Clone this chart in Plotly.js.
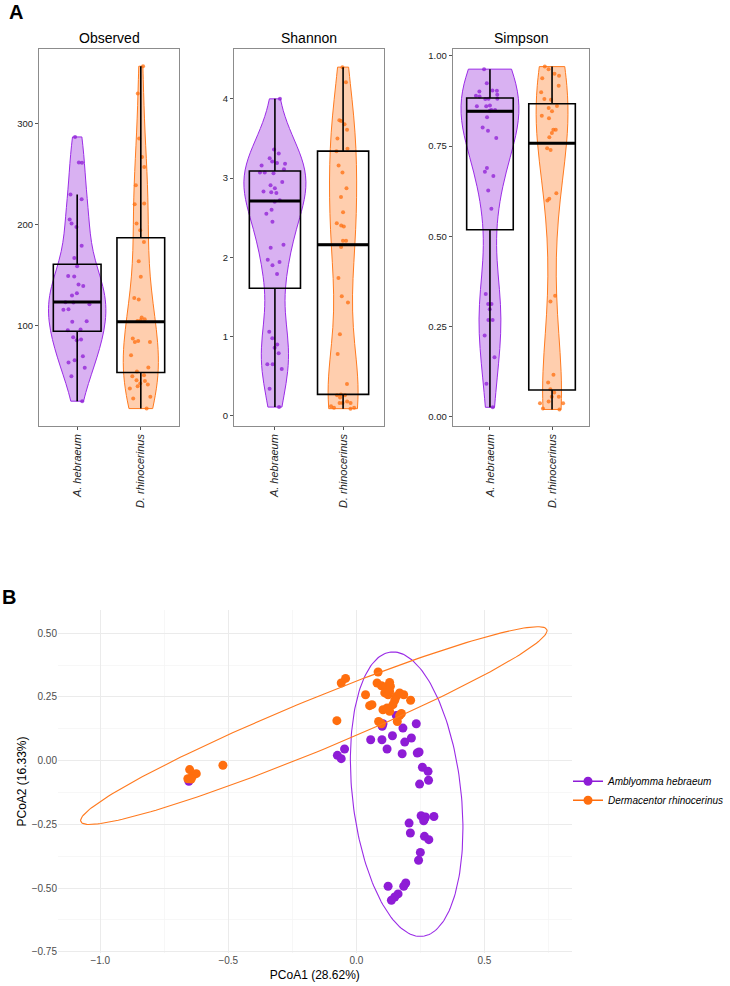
<!DOCTYPE html>
<html><head><meta charset="utf-8">
<script src="https://cdn.plot.ly/plotly-3.0.1.min.js"></script>
<style>html,body{margin:0;padding:0;background:#fff}#chart{width:730px;height:986px}</style>
</head><body><div id="chart"></div>
<script>
// ---------- Panel A data ----------
const groups = ['A. hebraeum', 'D. rhinocerinus'];
const groupPos = [1, 2];

const observedAh = [286.5, 261.2, 261, 229.6, 225, 205, 201, 197.7, 179, 167, 158.9, 149.3, 148.7, 140.8, 139.5, 132.2, 130, 123.4, 123, 121.4, 116.4, 116, 104.6, 104, 96.4, 95.7, 88.8, 86.5, 85.9, 70, 66, 63.8, 58.6, 50.3, 25.7];
const observedDr = [356.3, 329.3, 284.9, 266.8, 256.9, 238.8, 220.7, 220, 201, 194.4, 182.9, 163.8, 148.4, 127.6, 126, 108.2, 106.6, 105.6, 104.9, 87.5, 85.2, 84.2, 84.2, 71, 58.9, 54.9, 51.3, 50.3, 46.4, 45.7, 43.1, 42.1, 40.5, 38.2, 30, 28.3, 18.4];
const shannonAh = [4.0, 3.36, 3.31, 3.25, 3.21, 3.19, 3.18, 3.16, 3.11, 3.07, 3.07, 3.06, 2.95, 2.91, 2.87, 2.83, 2.82, 2.81, 2.72, 2.70, 2.60, 2.55, 2.45, 2.16, 2.12, 1.97, 1.94, 1.90, 1.79, 1.06, 0.98, 0.90, 0.86, 0.79, 0.65, 0.65, 0.59, 0.34, 0.11];
const shannonDr = [4.40, 4.21, 3.73, 3.72, 3.68, 3.61, 3.50, 3.37, 3.34, 3.16, 3.07, 2.87, 2.76, 2.57, 2.43, 2.40, 2.39, 2.21, 2.21, 2.13, 1.74, 1.51, 1.43, 1.03, 0.78, 0.40, 0.27, 0.26, 0.26, 0.23, 0.18, 0.16, 0.16, 0.16, 0.12, 0.10, 0.10, 0.09];
const simpsonAh = [0.963, 0.924, 0.904, 0.903, 0.901, 0.892, 0.889, 0.887, 0.881, 0.881, 0.880, 0.862, 0.860, 0.860, 0.850, 0.850, 0.848, 0.830, 0.801, 0.792, 0.772, 0.689, 0.679, 0.667, 0.627, 0.576, 0.340, 0.312, 0.312, 0.298, 0.268, 0.268, 0.225, 0.165, 0.091, 0.026];
const simpsonDr = [0.970, 0.963, 0.950, 0.945, 0.938, 0.917, 0.899, 0.880, 0.878, 0.861, 0.855, 0.846, 0.834, 0.827, 0.795, 0.795, 0.786, 0.774, 0.744, 0.739, 0.619, 0.604, 0.599, 0.335, 0.319, 0.116, 0.095, 0.076, 0.067, 0.055, 0.055, 0.042, 0.037, 0.037, 0.023, 0.020];

// box statistics: [A. hebraeum, D. rhinocerinus]
const observedLow = [25.7, 18.4], observedQ1 = [94.7, 54], observedMedian = [123.7, 104], observedQ3 = [160.9, 187], observedHigh = [229.6, 356.3];
const shannonLow = [0.11, 0.09], shannonQ1 = [1.61, 0.27], shannonMedian = [2.71, 2.16], shannonQ3 = [3.09, 3.34], shannonHigh = [4.0, 4.40];
const simpsonLow = [0.026, 0.020], simpsonQ1 = [0.518, 0.074], simpsonMedian = [0.846, 0.758], simpsonQ3 = [0.883, 0.867], simpsonHigh = [0.963, 0.970];

// ---------- Panel B data ----------
const ahX = [0.101, 0.104, 0.182, 0.234, 0.056, 0.100, 0.141, 0.120, 0.189, 0.215, 0.179, 0.238, 0.245, -0.074, -0.059, -0.046, 0.258, 0.280, 0.282, 0.247, 0.253, 0.266, 0.270, 0.303, 0.263, 0.206, 0.211, 0.266, 0.283, 0.250, 0.243, 0.124, 0.193, 0.185, 0.163, 0.150, 0.137, -0.654, 0.156];
const ahY = [0.135, 0.145, 0.128, 0.145, 0.082, 0.082, 0.098, 0.046, 0.073, 0.089, 0.027, 0.030, 0.034, 0.021, 0.008, 0.046, -0.026, -0.042, -0.077, -0.092, -0.216, -0.229, -0.221, -0.219, -0.236, -0.245, -0.284, -0.297, -0.310, -0.360, -0.391, -0.493, -0.480, -0.493, -0.523, -0.535, -0.548, -0.081, 0.177];
const drX = [0.085, -0.059, -0.042, 0.081, 0.098, 0.114, 0.130, 0.133, 0.111, 0.124, 0.130, 0.036, 0.156, 0.169, 0.185, 0.212, 0.150, 0.052, 0.061, 0.143, 0.104, 0.130, 0.120, 0.176, 0.169, 0.087, 0.098, 0.160, -0.076, -0.521, -0.651, -0.658, -0.641, -0.625, -0.645];
const drY = [0.348, 0.305, 0.323, 0.305, 0.294, 0.289, 0.307, 0.292, 0.266, 0.259, 0.272, 0.259, 0.252, 0.266, 0.259, 0.237, 0.237, 0.216, 0.220, 0.220, 0.200, 0.194, 0.207, 0.185, 0.177, 0.154, 0.145, 0.154, 0.157, -0.018, -0.035, -0.071, -0.062, -0.051, -0.072];
// 95% ellipses: centre, semi-major vector, semi-minor vector (data units)
const ahEllipseCenter = [0.1965, -0.1315], ahEllipseMajor = [-0.0622, 0.558], ahEllipseMinor = [-0.2108, -0.0238];
const drEllipseCenter = [-0.166, 0.1378], drEllipseMajor = [0.910, 0.377], drEllipseMinor = [-0.038, 0.0926];
const speciesNames = ['Amblyomma hebraeum', 'Dermacentor rhinocerinus'];

// ---------- styles ----------
const PURPLE = '#8E1CD6', ORANGE = '#FF6E0E';
const PURPLE_LINE = '#9A2BE6', ORANGE_LINE = '#FF7A1F';
const PURPLE_FILL = 'rgba(150,40,220,0.36)', ORANGE_FILL = 'rgba(255,120,30,0.36)';
const FONT = 'Liberation Sans, Arial, sans-serif';

function bwNrd0(v) {
  const n = v.length;
  const mean = v.reduce((a, b) => a + b, 0) / n;
  const sd = Math.sqrt(v.reduce((a, b) => a + (b - mean) * (b - mean), 0) / (n - 1));
  const s = v.slice().sort((a, b) => a - b);
  const q = p => { const h = (n - 1) * p, lo = Math.floor(h); return s[lo] + (h - lo) * (s[Math.min(lo + 1, n - 1)] - s[lo]); };
  const iqr = q(0.75) - q(0.25);
  return 0.9 * Math.min(sd, iqr / 1.34) * Math.pow(n, -0.2);
}

const panels = [
  {title: 'Observed', values: [observedAh, observedDr], low: observedLow, q1: observedQ1, med: observedMedian, q3: observedQ3, high: observedHigh,
   vw: [0.9, 0.55], jit: [0.55, 0.85], range: [1.5, 373], dtick: 100, fmt: 'd', dom: [39, 179]},
  {title: 'Shannon', values: [shannonAh, shannonDr], low: shannonLow, q1: shannonQ1, med: shannonMedian, q3: shannonQ3, high: shannonHigh,
   vw: [0.91, 0.44], jit: [0.55, 0.95], range: [-0.125, 4.625], dtick: 1, fmt: 'd', dom: [234, 384]},
  {title: 'Simpson', values: [simpsonAh, simpsonDr], low: simpsonLow, q1: simpsonQ1, med: simpsonMedian, q3: simpsonQ3, high: simpsonHigh,
   vw: [0.93, 0.51], jit: [0.55, 0.9], range: [-0.025, 1.018], dtick: 0.25, fmt: '.2f', dom: [452.7, 589.3]}
];

const W = 730, H = 986;
const traces = [];
const layout = {
  width: W, height: H, margin: {l: 0, r: 0, t: 0, b: 0, autoexpand: false},
  paper_bgcolor: '#fff', plot_bgcolor: 'rgba(0,0,0,0)',
  font: {family: FONT, color: '#000'},
  showlegend: true, annotations: []
};
const fills = [PURPLE_FILL, ORANGE_FILL], lines = [PURPLE_LINE, ORANGE_LINE], pts = [PURPLE, ORANGE];

panels.forEach((p, i) => {
  const k = i === 0 ? '' : String(i + 1);
  const xa = 'x' + k, ya = 'y' + k;
  for (let g = 0; g < 2; g++) {
    traces.push({
      type: 'violin', x0: groupPos[g], y: p.values[g], xaxis: xa, yaxis: ya,
      width: p.vw[g], bandwidth: bwNrd0(p.values[g]), spanmode: 'hard', scalemode: 'width',
      fillcolor: fills[g], line: {color: lines[g], width: 1},
      points: 'all', jitter: p.jit[g], pointpos: 0,
      marker: {color: pts[g], size: 4, opacity: 0.75, line: {width: 0}},
      box: {visible: false}, meanline: {visible: false}, showlegend: false, hoverinfo: 'skip', name: groups[g]
    });
  }
  traces.push({
    type: 'box', x: groupPos, q1: p.q1, median: p.med, q3: p.q3, lowerfence: p.low, upperfence: p.high,
    xaxis: xa, yaxis: ya, width: 0.75, fillcolor: 'rgba(0,0,0,0)', line: {color: '#000', width: 1.6},
    whiskerwidth: 0, boxpoints: false, showlegend: false, hoverinfo: 'skip'
  });
  for (let g = 0; g < 2; g++) {
    traces.push({
      type: 'scatter', mode: 'lines', xaxis: xa, yaxis: ya,
      x: [groupPos[g] - 0.375, groupPos[g] + 0.375], y: [p.med[g], p.med[g]],
      line: {color: '#000', width: 3}, showlegend: false, hoverinfo: 'skip'
    });
  }
  layout['xaxis' + k] = {
    domain: [p.dom[0] / W, p.dom[1] / W], range: [0.4, 2.6], anchor: ya,
    tickvals: groupPos, ticktext: groups.map(s => '<i>' + s + '</i>'), tickangle: -90,
    tickfont: {family: FONT, size: 11, color: '#222'}, ticks: 'outside', ticklen: 3, tickcolor: '#555',
    showline: true, mirror: true, linecolor: '#8c8c8c', linewidth: 1, showgrid: false, zeroline: false
  };
  layout['yaxis' + k] = {
    domain: [1 - 425.7 / H, 1 - 49.3 / H], range: p.range, anchor: xa, dtick: p.dtick, tick0: 0, tickformat: p.fmt,
    tickfont: {family: FONT, size: 9.5, color: '#222'}, ticks: 'outside', ticklen: 3, tickcolor: '#555',
    showline: true, mirror: true, linecolor: '#8c8c8c', linewidth: 1, showgrid: false, zeroline: false
  };
  layout.annotations.push({
    text: p.title, xref: 'paper', yref: 'paper', x: (p.dom[0] + p.dom[1]) / 2 / W, y: 1 - 37.7 / H,
    xanchor: 'center', yanchor: 'middle', showarrow: false, font: {family: FONT, size: 14, color: '#000'}
  });
});

// ---------- Panel B ----------
function ellipse(c, a, b) {
  const xs = [], ys = [];
  for (let i = 0; i <= 200; i++) {
    const t = 2 * Math.PI * i / 200;
    xs.push(c[0] + a[0] * Math.cos(t) + b[0] * Math.sin(t));
    ys.push(c[1] + a[1] * Math.cos(t) + b[1] * Math.sin(t));
  }
  return {xs, ys};
}
const eAh = ellipse(ahEllipseCenter, ahEllipseMajor, ahEllipseMinor);
const eDr = ellipse(drEllipseCenter, drEllipseMajor, drEllipseMinor);

traces.push({type: 'scatter', mode: 'markers', x: ahX, y: ahY, xaxis: 'x4', yaxis: 'y4',
  marker: {color: PURPLE, size: 9}, showlegend: false, hoverinfo: 'skip'});
traces.push({type: 'scatter', mode: 'markers', x: drX, y: drY, xaxis: 'x4', yaxis: 'y4',
  marker: {color: ORANGE, size: 9}, showlegend: false, hoverinfo: 'skip'});
traces.push({type: 'scatter', mode: 'lines', x: eAh.xs, y: eAh.ys, xaxis: 'x4', yaxis: 'y4',
  line: {color: PURPLE_LINE, width: 1.1}, showlegend: false, hoverinfo: 'skip'});
traces.push({type: 'scatter', mode: 'lines', x: eDr.xs, y: eDr.ys, xaxis: 'x4', yaxis: 'y4',
  line: {color: ORANGE_LINE, width: 1.1}, showlegend: false, hoverinfo: 'skip'});
[PURPLE, ORANGE].forEach((c, g) => {
  traces.push({type: 'scatter', mode: 'lines+markers', x: [null], y: [null], xaxis: 'x4', yaxis: 'y4',
    name: '<i>' + speciesNames[g] + '</i>', marker: {color: c, size: 9}, line: {color: c, width: 1.5}, hoverinfo: 'skip'});
});

layout.xaxis4 = {
  domain: [58 / W, 571.7 / W], range: [-1.165, 0.841], anchor: 'y4', dtick: 0.5, tick0: 0, tickformat: '.1f',
  showgrid: true, gridcolor: '#EBEBEB', gridwidth: 1, zeroline: false, showline: false, ticks: '',
  minor: {dtick: 0.25, tick0: 0, showgrid: true, gridcolor: '#F3F3F3', gridwidth: 0.7},
  tickfont: {family: FONT, size: 10, color: '#4D4D4D'},
  title: {text: 'PCoA1 (28.62%)', font: {family: FONT, size: 12, color: '#000'}, standoff: 5}
};
layout.yaxis4 = {
  domain: [1 - 953 / H, 1 - 610 / H], range: [-0.755, 0.5915], anchor: 'x4', dtick: 0.25, tick0: 0, tickformat: '.2f',
  showgrid: true, gridcolor: '#EBEBEB', gridwidth: 1, zeroline: false, showline: false, ticks: '',
  minor: {dtick: 0.125, tick0: 0, showgrid: true, gridcolor: '#F3F3F3', gridwidth: 0.7},
  tickfont: {family: FONT, size: 10, color: '#4D4D4D'},
  title: {text: 'PCoA2 (16.33%)', font: {family: FONT, size: 12, color: '#000'}, standoff: 2}
};
layout.legend = {x: 568 / W, y: 1 - 790.7 / H, xanchor: 'left', yanchor: 'middle', bgcolor: 'rgba(0,0,0,0)',
  font: {family: FONT, size: 10, color: '#000'}, tracegroupgap: 0};

layout.annotations.push({text: '<b>A</b>', xref: 'paper', yref: 'paper', x: 7 / W, y: 1 - 12 / H, xanchor: 'left', yanchor: 'middle',
  showarrow: false, font: {family: FONT, size: 20, color: '#000'}});
layout.annotations.push({text: '<b>B</b>', xref: 'paper', yref: 'paper', x: 0, y: 1 - 597 / H, xanchor: 'left', yanchor: 'middle',
  showarrow: false, font: {family: FONT, size: 20, color: '#000'}});

Plotly.newPlot('chart', traces, layout, {staticPlot: true, displayModeBar: false});
</script>
</body></html>
